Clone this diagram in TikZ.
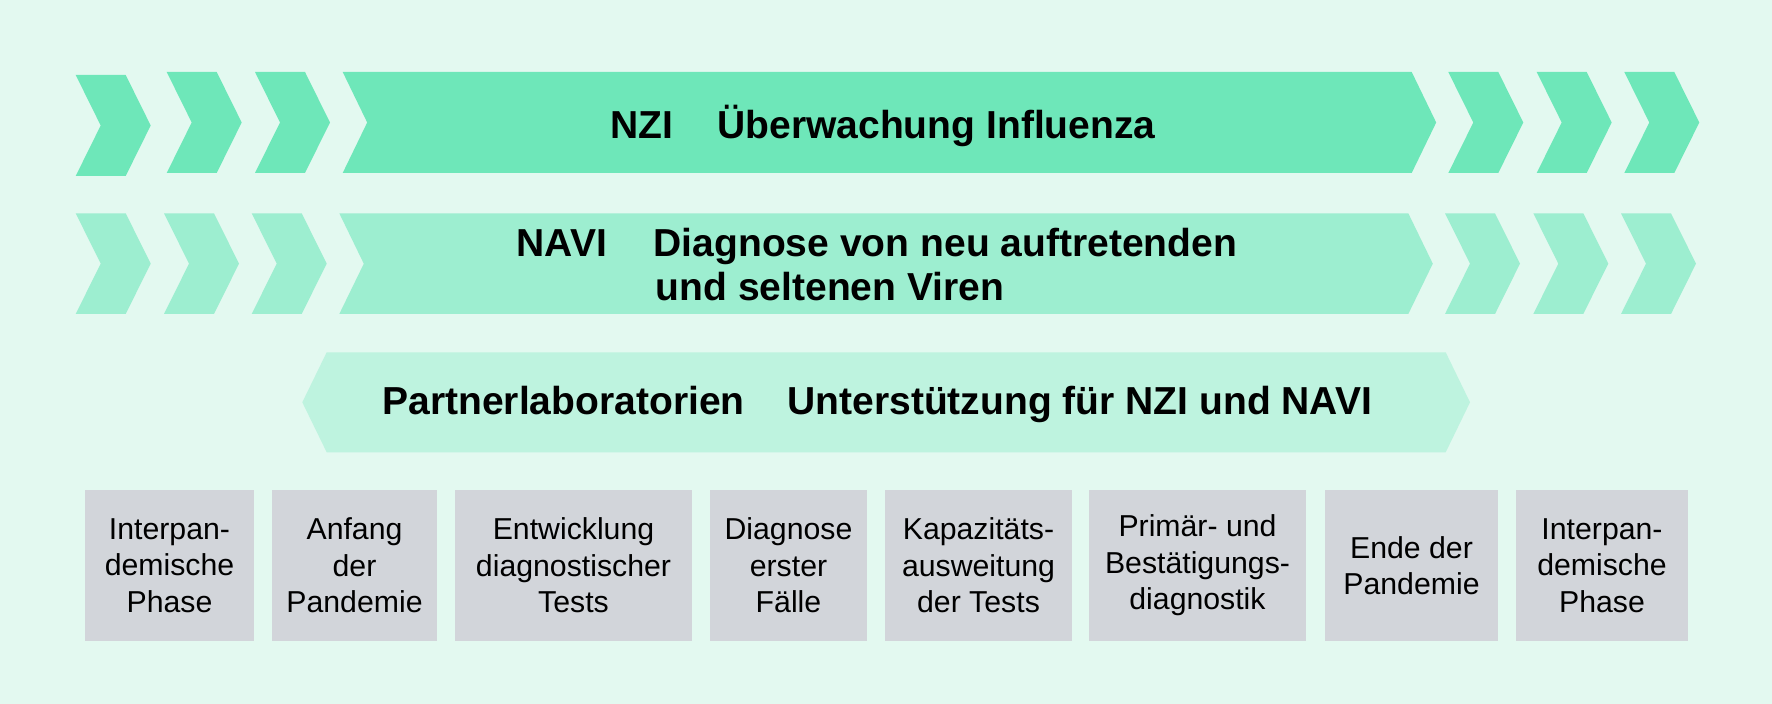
\documentclass[tikz,border=0pt]{standalone}
\usepackage{fontspec}
\setmainfont{Liberation Sans}
\definecolor{bgc}{RGB}{227,249,240}
\definecolor{rowa}{RGB}{110,231,185}
\definecolor{rowb}{RGB}{157,238,208}
\definecolor{rowc}{RGB}{190,243,223}
\definecolor{boxc}{RGB}{210,213,218}
\newcommand\mychev[4]{%
  \fill[#4] (#1,#2) -- ({#1+50},#2) -- ({#1+75},{(#2+#3)/2}) -- ({#1+50},#3)
    -- (#1,#3) -- ({#1+25},{(#2+#3)/2}) -- cycle;}
\tikzset{
  headtxt/.style={font=\fontsize{11.1}{13}\selectfont\bfseries, inner sep=0pt, anchor=base west, text=black},
  phasetxt/.style={font=\fontsize{8.6}{10.35}\selectfont, align=center, inner sep=0pt, text=black},
}
\begin{document}
\begin{tikzpicture}[x=0.01cm,y=-0.01cm]
\fill[bgc] (0,0) rectangle (1772,704);
\useasboundingbox (0,0) rectangle (1772,704);
% row 1
\mychev{75.7}{75}{176}{rowa}
\mychev{166.7}{72}{173}{rowa}
\mychev{255}{72}{173}{rowa}
\fill[rowa] (342.7,72) -- (1411.7,72) -- (1436.2,122.5) -- (1411.7,173) -- (342.7,173) -- (367.2,122.5) -- cycle;
\mychev{1448.3}{72}{173}{rowa}
\mychev{1536.7}{72}{173}{rowa}
\mychev{1624.3}{72}{173}{rowa}
% row 2
\mychev{75.7}{213.3}{314}{rowb}
\mychev{164}{213.3}{314}{rowb}
\mychev{251.7}{213.3}{314}{rowb}
\fill[rowb] (339.3,213.3) -- (1408.3,213.3) -- (1432.8,263.7) -- (1408.3,314) -- (339.3,314) -- (363.8,263.7) -- cycle;
\mychev{1445}{213.3}{314}{rowb}
\mychev{1533.3}{213.3}{314}{rowb}
\mychev{1621}{213.3}{314}{rowb}
% row 3
\fill[rowc] (302.3,402.3) -- (326.7,352.3) -- (1445.7,352.3) -- (1470,402.3) -- (1445.7,452.3) -- (326.7,452.3) -- cycle;
% headings
\node[headtxt] (nzi) at (610,138.3) {NZI};
\node[headtxt] (nzit) at (716.7,138.3) {Überwachung Influenza};
\node[headtxt] (navi) at (516,256.7) {NAVI};
\node[headtxt] (navia) at (653,256.7) {Diagnose von neu auftretenden};
\node[headtxt] (navib) at (655,301) {und seltenen Viren};
\node[headtxt] (part) at (381.7,414.3) {Partnerlaboratorien};
\node[headtxt] (partt) at (786.7,414.3) {Unterstützung für NZI und NAVI};
% phase boxes
\fill[boxc] (85,490) rectangle (254,641);
\fill[boxc] (272,490) rectangle (437,641);
\fill[boxc] (455,490) rectangle (692,641);
\fill[boxc] (710,490) rectangle (867,641);
\fill[boxc] (885,490) rectangle (1072,641);
\fill[boxc] (1089,490) rectangle (1306,641);
\fill[boxc] (1325,490) rectangle (1498,641);
\fill[boxc] (1516,490) rectangle (1688,641);
\node[phasetxt] (p1) at (169.5,565.5) {Interpan-\\demische\\Phase};
\node[phasetxt] (p2) at (354.5,565.5) {Anfang\\der\\Pandemie};
\node[phasetxt] (p3) at (573.5,565.5) {Entwicklung\\diagnostischer\\Tests};
\node[phasetxt] (p4) at (788.5,565.5) {Diagnose\\erster\\Fälle};
\node[phasetxt] (p5) at (978.5,565.5) {Kapazitäts-\\ausweitung\\der Tests};
\node[phasetxt] (p6) at (1197.5,565.5) {Primär- und\\Bestätigungs-\\diagnostik};
\node[phasetxt] (p7) at (1411.5,565.5) {Ende der\\Pandemie};
\node[phasetxt] (p8) at (1602,565.5) {Interpan-\\demische\\Phase};
\end{tikzpicture}
\end{document}
